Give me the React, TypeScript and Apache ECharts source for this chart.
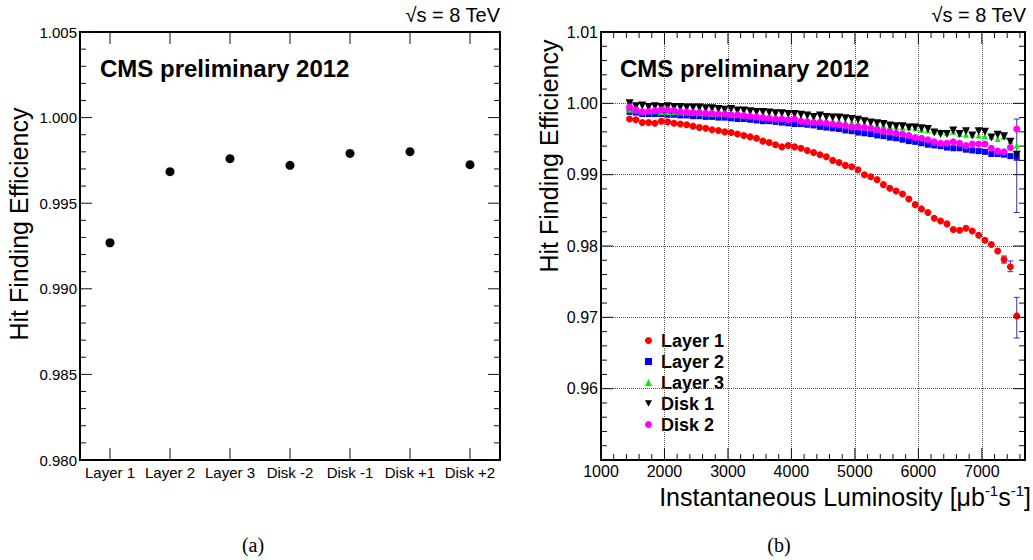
import React, { useEffect, useRef } from "react";
import * as echarts from "echarts";

const FONT = "'Liberation Sans', Arial, Helvetica, sans-serif";
const SERIF = "'Liberation Serif', 'Times New Roman', serif";

// ---- Panel (a) ----
const leftCategories = ["Layer 1", "Layer 2", "Layer 3", "Disk -2", "Disk -1", "Disk +1", "Disk +2"];
const leftEfficiency = [0.99269, 0.99684, 0.9976, 0.99721, 0.99791, 0.99801, 0.99725];
const leftYMajor = [0.98, 0.985, 0.99, 0.995, 1.0, 1.005];

// ---- Panel (b) ----
const lumi = [
  1450, 1550, 1650, 1750, 1850, 1950, 2050, 2150, 2250, 2350,
  2450, 2550, 2650, 2750, 2850, 2950, 3050, 3150, 3250, 3350,
  3450, 3550, 3650, 3750, 3850, 3950, 4050, 4150, 4250, 4350,
  4450, 4550, 4650, 4750, 4850, 4950, 5050, 5150, 5250, 5350,
  5450, 5550, 5650, 5750, 5850, 5950, 6050, 6150, 6250, 6350,
  6450, 6550, 6650, 6750, 6850, 6950, 7050, 7150, 7250, 7350,
  7450, 7550,
];
const layer1 = [
  0.9978, 0.9977, 0.9973, 0.9973, 0.9972, 0.9975, 0.9974, 0.9972, 0.9971, 0.997,
  0.9968, 0.9966, 0.9965, 0.9963, 0.9962, 0.996, 0.9959, 0.9957, 0.9955, 0.9953,
  0.9951, 0.9947, 0.9945, 0.9942, 0.9939, 0.9941, 0.9939, 0.9937, 0.9934, 0.9931,
  0.9928, 0.9925, 0.992, 0.9917, 0.9913, 0.9911, 0.9907, 0.99, 0.9897, 0.9893,
  0.9886, 0.9881, 0.9877, 0.9873, 0.9866, 0.9858, 0.9852, 0.9847, 0.9839, 0.9835,
  0.9831, 0.9823, 0.9822, 0.9825, 0.9821, 0.9815, 0.9808, 0.9802, 0.9793, 0.9781,
  0.9771, 0.9702,
];
const layer2 = [
  0.9988, 0.9987, 0.9985, 0.9985, 0.9985, 0.9985, 0.9984, 0.9984, 0.9983, 0.9983,
  0.9982, 0.9982, 0.9981, 0.9981, 0.998, 0.998, 0.9979, 0.9978, 0.9978, 0.9977,
  0.9976, 0.9975, 0.9975, 0.9974, 0.9973, 0.9972, 0.9971, 0.9971, 0.997, 0.9969,
  0.9967, 0.9966, 0.9965, 0.9964, 0.9962, 0.9961, 0.9959, 0.9958, 0.9957, 0.9955,
  0.9954, 0.9952, 0.9951, 0.9949, 0.9947, 0.9946, 0.9944, 0.9942, 0.9941, 0.994,
  0.9938, 0.9937, 0.9937, 0.9935, 0.9934, 0.9933, 0.9932, 0.9929, 0.9929, 0.9928,
  0.9926, 0.9925,
];
const layer3 = [
  0.9991, 0.999, 0.9989, 0.9989, 0.9989, 0.9988, 0.9988, 0.9988, 0.9987, 0.9987,
  0.9987, 0.9986, 0.9986, 0.9985, 0.9985, 0.9985, 0.9984, 0.9984, 0.9983, 0.9983,
  0.9982, 0.9982, 0.9981, 0.9981, 0.998, 0.998, 0.9979, 0.9979, 0.9978, 0.9977,
  0.9977, 0.9976, 0.9975, 0.9975, 0.9974, 0.9973, 0.9972, 0.9971, 0.997, 0.997,
  0.9969, 0.9968, 0.9967, 0.9966, 0.9966, 0.9965, 0.9963, 0.9962, 0.9961, 0.996,
  0.9959, 0.996, 0.9957, 0.9956, 0.9956, 0.9955, 0.9954, 0.9953, 0.995, 0.9955,
  0.9947, 0.9941,
];
const disk1 = [
  1.0, 0.9996, 0.9997, 0.9995, 0.9996, 0.9995, 0.9996, 0.9995, 0.9995, 0.9994,
  0.9994, 0.9994, 0.9993, 0.9993, 0.9992, 0.9991, 0.9992, 0.999, 0.999, 0.9989,
  0.9988, 0.9988, 0.9987, 0.9986, 0.9986, 0.9985, 0.9985, 0.9984, 0.9983, 0.9981,
  0.9983, 0.9981, 0.998, 0.998, 0.9979, 0.9978, 0.9977, 0.9975, 0.9973, 0.9972,
  0.9971, 0.9969, 0.9968, 0.9968, 0.9966, 0.9966, 0.9965, 0.9964, 0.9959, 0.9957,
  0.9957, 0.9962, 0.9957, 0.9961, 0.9955, 0.9961, 0.996, 0.9952, 0.9956, 0.9954,
  0.9946, 0.9928,
];
const disk2 = [
  0.9995, 0.9991, 0.9988, 0.9989, 0.999, 0.9991, 0.9991, 0.999, 0.9988, 0.9988,
  0.9987, 0.9987, 0.9986, 0.9986, 0.9985, 0.9985, 0.9984, 0.9984, 0.9983, 0.9982,
  0.9981, 0.998, 0.9979, 0.9978, 0.9978, 0.9977, 0.9978, 0.9975, 0.9974, 0.9973,
  0.9973, 0.9972, 0.9971, 0.997, 0.9969, 0.9967, 0.9967, 0.9966, 0.9965, 0.9963,
  0.9961, 0.996, 0.9958, 0.9957, 0.9955, 0.9952, 0.9951, 0.9949, 0.9946, 0.9944,
  0.9944, 0.9946, 0.9944, 0.9941, 0.9943, 0.9943, 0.9943, 0.9937, 0.9933, 0.9932,
  0.9938, 0.9964,
];
// error bars: [luminosity, low, high]
const errorBars = [
  [7350, 0.9776, 0.9786],
  [7450, 0.9764, 0.9779],
  [7550, 0.9671, 0.9728],
  [7550, 0.9847, 0.9978],
  [7550, 0.992, 0.9932],
  [7350, 0.995, 0.9958],
];
const rightXMajor = [1000, 2000, 3000, 4000, 5000, 6000, 7000];
const rightYMajor = [0.95, 0.96, 0.97, 0.98, 0.99, 1.0, 1.01];

const INV_TRI = "path://M0,0 L10,0 L5,9 Z";
const seriesDefs = [
  { name: "Layer 1", values: layer1, color: "#ff0000", symbol: "circle", size: 7 },
  { name: "Layer 2", values: layer2, color: "#0000ff", symbol: "rect", size: 6 },
  { name: "Layer 3", values: layer3, color: "#00ee00", symbol: "triangle", size: 6 },
  { name: "Disk 1", values: disk1, color: "#000000", symbol: INV_TRI, size: 8 },
  { name: "Disk 2", values: disk2, color: "#ff00ff", symbol: "circle", size: 7 },
];

// minor ticks: 5 subdivisions of each major step, continued up to the axis end
function minorTicks(major: number[], end: number): number[] {
  const step = (major[1] - major[0]) / 5;
  const out: number[] = [];
  for (let i = 0; i < major.length; i++) {
    for (let k = 1; k < 5; k++) {
      const v = +(major[i] + k * step).toFixed(6);
      if (v < end - 1e-9) out.push(v);
    }
  }
  return out;
}

// kind: 0 = x tick, 1 = y tick, 2 = frame
function tickItems(xMajor: number[], xMinor: number[], yMajor: number[], yMinor: number[]) {
  const items: number[][] = [[2, 0, 0]];
  xMajor.forEach((v) => items.push([0, v, 12]));
  xMinor.forEach((v) => items.push([0, v, 6]));
  yMajor.forEach((v) => items.push([1, v, 12]));
  yMinor.forEach((v) => items.push([1, v, 6]));
  return items;
}

function frameSeries(xAxisIndex: number, yAxisIndex: number, refX: number, refY: number, data: number[][]) {
  return {
    type: "custom", xAxisIndex, yAxisIndex, clip: false, z: 5, silent: true,
    renderItem: (params: any, api: any) => {
      const cs = params.coordSys;
      const kind = data[params.dataIndex][0];
      const v = data[params.dataIndex][1];
      const len = data[params.dataIndex][2];
      const st = { stroke: "#111", lineWidth: 1 };
      if (kind === 2) {
        return { type: "rect", shape: { x: cs.x, y: cs.y, width: cs.width, height: cs.height }, style: { fill: "none", stroke: "#000", lineWidth: 2 } };
      }
      if (kind === 0) {
        const px = api.coord([v, refY])[0];
        const yb = cs.y + cs.height;
        return {
          type: "group",
          children: [
            { type: "line", shape: { x1: px, y1: yb, x2: px, y2: yb - len }, style: st },
            { type: "line", shape: { x1: px, y1: cs.y, x2: px, y2: cs.y + len }, style: st },
          ],
        };
      }
      const py = api.coord([refX, v])[1];
      const xr = cs.x + cs.width;
      return {
        type: "group",
        children: [
          { type: "line", shape: { x1: cs.x, y1: py, x2: cs.x + len, y2: py }, style: st },
          { type: "line", shape: { x1: xr, y1: py, x2: xr - len, y2: py }, style: st },
        ],
      };
    },
    data: data.map((d) => [0, 0.99, d[2]]),
  };
}

export default function App() {
  const underRef = useRef<HTMLDivElement>(null);
  const topRef = useRef<HTMLDivElement>(null);

  useEffect(() => {
    document.body.style.margin = "0";
    const under = echarts.init(underRef.current!, null, { renderer: "svg" });
    const top = echarts.init(topRef.current!, null, { renderer: "svg" });

    const underOption: any = {
      animation: false,
      backgroundColor: "transparent",
      grid: [{ left: 601, top: 32, width: 424, height: 428 }],
      xAxis: [{ type: "value", gridIndex: 0, min: 1000, max: 7680, show: false }],
      yAxis: [{ type: "value", gridIndex: 0, min: 0.95, max: 1.01, show: false }],
      legend: {
        data: seriesDefs.map((s) => ({ name: s.name, icon: s.symbol })),
        orient: "vertical", left: 645, top: 331, padding: 0,
        itemWidth: 7, itemHeight: 7, itemGap: 2, selectedMode: false,
        textStyle: { fontSize: 18, fontWeight: "bold", fontFamily: FONT, color: "#000", lineHeight: 19, padding: [0, 0, 0, 4] },
      },
      series: [
        {
          type: "custom", xAxisIndex: 0, yAxisIndex: 0,
          renderItem: (params: any, api: any) => {
            const x = api.value(0);
            const lo = api.coord([x, api.value(1)]);
            const hi = api.coord([x, api.value(2)]);
            const cap = 3;
            const st = { stroke: "#3333aa", lineWidth: 1 };
            return {
              type: "group",
              children: [
                { type: "line", shape: { x1: lo[0], y1: lo[1], x2: hi[0], y2: hi[1] }, style: st },
                { type: "line", shape: { x1: lo[0] - cap, y1: lo[1], x2: lo[0] + cap, y2: lo[1] }, style: st },
                { type: "line", shape: { x1: hi[0] - cap, y1: hi[1], x2: hi[0] + cap, y2: hi[1] }, style: st },
              ],
            };
          },
          data: errorBars,
        },
        ...seriesDefs.map((s) => ({
          name: s.name, type: "scatter", xAxisIndex: 0, yAxisIndex: 0,
          symbol: s.symbol, symbolSize: s.size, itemStyle: { color: s.color, opacity: 1 }, data: [],
        })),
      ],
      graphic: [
        { type: "text", x: 500, y: 15, style: { text: "√s = 8 TeV", align: "right", verticalAlign: "middle", fontSize: 20, fontFamily: FONT, fill: "#000" } },
        { type: "text", x: 1026, y: 15, style: { text: "√s = 8 TeV", align: "right", verticalAlign: "middle", fontSize: 20, fontFamily: FONT, fill: "#000" } },
        { type: "text", x: 100, y: 68, style: { text: "CMS preliminary 2012", align: "left", verticalAlign: "middle", fontSize: 24, fontWeight: "bold", fontFamily: FONT, fill: "#000" } },
        { type: "text", x: 620, y: 68, style: { text: "CMS preliminary 2012", align: "left", verticalAlign: "middle", fontSize: 24, fontWeight: "bold", fontFamily: FONT, fill: "#000" } },
        { type: "text", x: 19, y: 224, rotation: Math.PI / 2, style: { text: "Hit Finding Efficiency", align: "center", verticalAlign: "middle", fontSize: 25, fontFamily: FONT, fill: "#000" } },
        { type: "text", x: 549, y: 156, rotation: Math.PI / 2, style: { text: "Hit Finding Efficiency", align: "center", verticalAlign: "middle", fontSize: 25, fontFamily: FONT, fill: "#000" } },
        {
          type: "text", x: 1031, y: 497,
          style: {
            text: "Instantaneous Luminosity [μb{sup|-1}s{sup|-1}]", align: "right", verticalAlign: "middle",
            fontSize: 25, fontFamily: FONT, fill: "#000",
            rich: { sup: { fontSize: 15, fontFamily: FONT, fill: "#000", verticalAlign: "top", lineHeight: 28 } },
          },
        },
        { type: "text", x: 253, y: 545, style: { text: "(a)", align: "center", verticalAlign: "middle", fontSize: 20, fontFamily: SERIF, fill: "#000" } },
        { type: "text", x: 779, y: 545, style: { text: "(b)", align: "center", verticalAlign: "middle", fontSize: 20, fontFamily: SERIF, fill: "#000" } },
      ],
    };

    const leftTickData = tickItems(leftCategories.map((_, i) => i), [], leftYMajor, minorTicks(leftYMajor, 1.005));
    const rightTickData = tickItems(rightXMajor, minorTicks(rightXMajor, 7680), rightYMajor, minorTicks(rightYMajor, 1.01));
    const axisLine = { show: true, onZero: false, lineStyle: { color: "#000", width: 2 } };

    const topOption: any = {
      animation: false,
      backgroundColor: "transparent",
      grid: [
        { left: 80, top: 32, width: 420, height: 428 },
        { left: 601, top: 32, width: 424, height: 428 },
      ],
      xAxis: [
        { type: "category", gridIndex: 0, position: "bottom", data: leftCategories,
          axisLine, axisTick: { show: false },
          axisLabel: { interval: 0, color: "#000", fontSize: 15, fontFamily: FONT, margin: 5 } },
        { type: "value", gridIndex: 1, position: "bottom", min: 1000, max: 7680, interval: 1000,
          axisLine, axisTick: { show: false }, minorTick: { show: false },
          axisLabel: { color: "#000", fontSize: 16, fontFamily: FONT, margin: 3, formatter: (v: number) => (v % 1000 === 0 ? String(v) : "") },
          splitLine: { show: true, lineStyle: { type: "dotted", color: "#555", width: 1 } } },
      ],
      yAxis: [
        { type: "value", gridIndex: 0, position: "left", min: 0.98, max: 1.005, interval: 0.005,
          axisLine, axisTick: { show: false }, minorTick: { show: false },
          axisLabel: { color: "#000", fontSize: 15, fontFamily: FONT, margin: 3, formatter: (v: number) => v.toFixed(3) },
          splitLine: { show: false } },
        { type: "value", gridIndex: 1, position: "left", min: 0.95, max: 1.01, interval: 0.01,
          axisLine, axisTick: { show: false }, minorTick: { show: false },
          axisLabel: { color: "#000", fontSize: 16, fontFamily: FONT, margin: 3, formatter: (v: number) => (Math.abs(v - 0.95) < 1e-6 ? "" : v.toFixed(2)) },
          splitLine: { show: true, lineStyle: { type: "dotted", color: "#555", width: 1 } } },
      ],
      series: [
        frameSeries(0, 0, 0, 0.99, leftTickData),
        frameSeries(1, 1, 1000, 0.98, rightTickData),
        { type: "scatter", xAxisIndex: 0, yAxisIndex: 0, symbol: "circle", symbolSize: 9,
          itemStyle: { color: "#000", opacity: 1 }, data: leftEfficiency },
        ...seriesDefs.map((s) => ({
          name: s.name, type: "scatter", xAxisIndex: 1, yAxisIndex: 1,
          symbol: s.symbol, symbolSize: s.size, itemStyle: { color: s.color, opacity: 1 },
          data: lumi.map((x, i) => [x, s.values[i]]),
        })),
      ],
    };

    under.setOption(underOption);
    top.setOption(topOption);
    return () => {
      under.dispose();
      top.dispose();
    };
  }, []);

  const layer: React.CSSProperties = { position: "absolute", left: 0, top: 0, width: 1033, height: 560 };
  return (
    <div style={{ position: "relative", width: 1033, height: 560 }}>
      <div style={layer}>
        <div ref={underRef} style={{ width: 1033, height: 560 }} />
      </div>
      <div style={layer}>
        <div ref={topRef} style={{ width: 1033, height: 560 }} />
      </div>
    </div>
  );
}
